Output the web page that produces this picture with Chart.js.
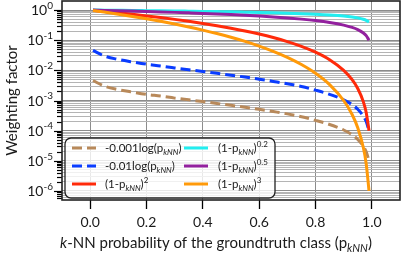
<!DOCTYPE html>
<html lang="en">
<head>
  <meta charset="UTF-8">
  <title>Weighting factor vs k-NN probability</title>
  <script src="https://cdn.jsdelivr.net/npm/chart.js"></script>
  <style>
    html, body { margin: 0; padding: 0; background: #fff; }
    .chart-container { width: 404px; height: 257px; }
  </style>
</head>
<body>
  <div class="chart-container">
    <canvas id="weightChart" width="404" height="257"></canvas>
  </div>

  <script>
    // p_kNN sample points
    const pValues = [0.01, 0.05, 0.1, 0.15, 0.2, 0.25, 0.3, 0.35, 0.4, 0.45, 0.5, 0.55,
                     0.6, 0.65, 0.7, 0.75, 0.8, 0.85, 0.9, 0.93, 0.95, 0.97, 0.98, 0.99];

    // weighting factors
    const logSmall = [0.0046, 0.0030, 0.0023, 0.0019, 0.0016, 0.0014, 0.0012, 0.00105, 0.00092, 0.0008, 0.00069, 0.0006,
                      0.00051, 0.00043, 0.00036, 0.00029, 0.00022, 0.00016, 0.000105, 0.000073, 0.000051, 0.00003, 0.00002, 0.00001];
    const logLarge = [0.046, 0.030, 0.023, 0.019, 0.016, 0.014, 0.012, 0.0105, 0.0092, 0.008, 0.0069, 0.006,
                      0.0051, 0.0043, 0.0036, 0.0029, 0.0022, 0.0016, 0.00105, 0.00073, 0.00051, 0.0003, 0.0002, 0.0001];
    const pow2 = [0.98, 0.9025, 0.81, 0.7225, 0.64, 0.5625, 0.49, 0.4225, 0.36, 0.3025, 0.25, 0.2025,
                  0.16, 0.1225, 0.09, 0.0625, 0.04, 0.0225, 0.01, 0.0049, 0.0025, 0.0009, 0.0004, 0.0001];
    const pow02 = [0.998, 0.990, 0.979, 0.968, 0.956, 0.944, 0.931, 0.917, 0.903, 0.887, 0.871, 0.852,
                   0.833, 0.811, 0.786, 0.758, 0.725, 0.684, 0.631, 0.587, 0.549, 0.496, 0.457, 0.398];
    const pow05 = [0.995, 0.975, 0.949, 0.922, 0.894, 0.866, 0.837, 0.806, 0.775, 0.742, 0.707, 0.671,
                   0.632, 0.592, 0.548, 0.5, 0.447, 0.387, 0.316, 0.265, 0.224, 0.173, 0.141, 0.1];
    const pow3 = [0.97, 0.857, 0.729, 0.614, 0.512, 0.422, 0.343, 0.275, 0.216, 0.166, 0.125, 0.0911,
                  0.064, 0.0429, 0.027, 0.0156, 0.008, 0.00338, 0.001, 0.000343, 0.000125, 0.000027, 0.000008, 0.000001];

    // legend labels: _{..} subscript, ^{..} superscript, *..* italic
    const seriesLabels = ['-0.001log(p_{kNN})', '-0.01log(p_{kNN})', '(1-p_{kNN})^{2}',
                          '(1-p_{kNN})^{0.2}', '(1-p_{kNN})^{0.5}', '(1-p_{kNN})^{3}'];
    const seriesColors = ['#b8895a', '#0a3cff', '#ff2a0a', '#22eef0', '#93209e', '#ff9a0a'];
    const seriesDash = [[10, 5], [10, 5], [], [], [], []];
    const seriesValues = [logSmall, logLarge, pow2, pow02, pow05, pow3];

    // axes
    const xTickValues = [0.0, 0.2, 0.4, 0.6, 0.8, 1.0];
    const yMajorExponents = [-6, -5, -4, -3, -2, -1, 0];
    const yMinorMultipliers = [2, 3, 4, 5, 6, 7, 8, 9];
    const xTitle = '*k*-NN probability of the groundtruth class (p_{kNN})';
    const yTitle = 'Weighting factor';

    const FONT = 'Lato, "Open Sans", sans-serif';
    const INK = '#1a1a1a';

    // all y grid values (minor + major), within the visible range
    const Y_MIN = Math.pow(10, -6.3), Y_MAX = Math.pow(10, 0.3);
    let yGrid = [];
    [-7].concat(yMajorExponents).forEach(e => {
      [1].concat(yMinorMultipliers).forEach(m => {
        const v = m * Math.pow(10, e);
        if (v >= Y_MIN && v <= Y_MAX) yGrid.push({ value: v, major: m === 1 });
      });
    });

    // split a label into styled pieces
    function parseRich(text) {
      const parts = [];
      const re = /(_\{[^}]*\}|\^\{[^}]*\}|\*[^*]*\*)/g;
      let last = 0, m;
      while ((m = re.exec(text)) !== null) {
        if (m.index > last) parts.push({ t: text.slice(last, m.index), kind: 'n' });
        const tok = m[0];
        if (tok[0] === '_') parts.push({ t: tok.slice(2, -1), kind: 'sub' });
        else if (tok[0] === '^') parts.push({ t: tok.slice(2, -1), kind: 'sup' });
        else parts.push({ t: tok.slice(1, -1), kind: 'it' });
        last = m.index + tok.length;
      }
      if (last < text.length) parts.push({ t: text.slice(last), kind: 'n' });
      return parts;
    }

    function richFont(kind, size) {
      if (kind === 'sub') return 'italic ' + Math.round(size * 0.72) + 'px ' + FONT;
      if (kind === 'sup') return Math.round(size * 0.72) + 'px ' + FONT;
      if (kind === 'it') return 'italic ' + size + 'px ' + FONT;
      return size + 'px ' + FONT;
    }

    function richWidth(ctx, parts, size) {
      let w = 0;
      parts.forEach(p => { ctx.font = richFont(p.kind, size); w += ctx.measureText(p.t).width; });
      return w;
    }

    // draw at baseline y, starting at x
    function drawRich(ctx, parts, x, y, size) {
      ctx.textAlign = 'left';
      ctx.textBaseline = 'alphabetic';
      parts.forEach(p => {
        ctx.font = richFont(p.kind, size);
        let dy = 0;
        if (p.kind === 'sub') dy = size * 0.28;
        if (p.kind === 'sup') dy = -size * 0.45;
        ctx.fillText(p.t, x, y + dy);
        x += ctx.measureText(p.t).width;
      });
    }

    const decorPlugin = {
      id: 'decor',
      afterDraw(chart) {
        const { ctx, chartArea: a, scales: { x, y } } = chart;
        ctx.save();
        ctx.fillStyle = INK;
        ctx.strokeStyle = '#000';

        // y tick marks
        ctx.lineWidth = 1.2;
        yGrid.forEach(g => {
          const py = Math.round(y.getPixelForValue(g.value)) + 0.5;
          ctx.beginPath();
          ctx.moveTo(a.left - (g.major ? 8 : 5), py);
          ctx.lineTo(a.left, py);
          ctx.stroke();
        });

        // y tick labels 10^n
        yMajorExponents.forEach(e => {
          const py = y.getPixelForValue(Math.pow(10, e));
          const parts = [{ t: '10', kind: 'n' }, { t: String(e), kind: 'sup' }];
          const w = richWidth(ctx, parts, 14);
          drawRich(ctx, parts, a.left - 9 - w, py + 5, 14);
        });

        // frame
        ctx.lineWidth = 1.6;
        ctx.strokeStyle = '#222';
        ctx.strokeRect(a.left, a.top, a.right - a.left, a.bottom - a.top);

        // y title
        ctx.save();
        ctx.translate(17, (a.top + a.bottom) / 2);
        ctx.rotate(-Math.PI / 2);
        ctx.font = '15px ' + FONT;
        ctx.textAlign = 'center';
        ctx.textBaseline = 'alphabetic';
        ctx.fillText(yTitle, 0, 0);
        ctx.restore();

        // x title
        const xt = parseRich(xTitle);
        const xw = richWidth(ctx, xt, 15);
        drawRich(ctx, xt, 216 - xw / 2, 248, 15);

        // legend
        const box = { left: a.left + 3, top: 138, right: 275, bottom: 198 };
        ctx.beginPath();
        ctx.roundRect(box.left, box.top, box.right - box.left, box.bottom - box.top, 6);
        ctx.fillStyle = 'rgba(255,255,255,0.8)';
        ctx.fill();
        ctx.lineWidth = 1.3;
        ctx.strokeStyle = '#222';
        ctx.stroke();

        const rows = [148, 166, 184];
        const cols = [{ line: 72, text: 105 }, { line: 184, text: 218 }];
        chart.data.datasets.forEach((ds, i) => {
          const col = cols[Math.floor(i / 3)];
          const ry = rows[i % 3];
          ctx.beginPath();
          ctx.setLineDash(ds.borderDash);
          ctx.lineWidth = ds.borderWidth;
          ctx.strokeStyle = ds.borderColor;
          ctx.moveTo(col.line, ry);
          ctx.lineTo(col.line + 24, ry);
          ctx.stroke();
          ctx.setLineDash([]);
          ctx.fillStyle = INK;
          drawRich(ctx, parseRich(ds.label), col.text, ry + 4, 11.5);
        });

        ctx.restore();
      }
    };

    const datasets = seriesValues.map((vals, i) => ({
      label: seriesLabels[i],
      data: vals.map((v, j) => ({ x: pValues[j], y: v })),
      borderColor: seriesColors[i],
      borderDash: seriesDash[i],
      borderWidth: 3,
      pointRadius: 0,
      fill: false,
      tension: 0.3,
      cubicInterpolationMode: 'monotone',
      order: seriesValues.length - i
    }));

    const ctx = document.getElementById('weightChart').getContext('2d');
    new Chart(ctx, {
      type: 'line',
      data: { datasets: datasets },
      options: {
        responsive: false,
        animation: false,
        layout: { padding: { top: 1, right: 4, left: 0, bottom: 0 } },
        plugins: {
          legend: { display: false },
          tooltip: { enabled: false }
        },
        scales: {
          x: {
            type: 'linear',
            min: -0.1,
            max: 1.1,
            afterBuildTicks: scale => { scale.ticks = xTickValues.map(v => ({ value: v })); },
            afterFit: scale => { scale.height = 57; },
            grid: { color: '#8c8c8c', lineWidth: 1, tickColor: '#000', tickLength: 9, tickWidth: 1.3 },
            border: { display: false },
            ticks: {
              color: INK,
              font: { size: 14, family: FONT },
              padding: 5,
              maxRotation: 0,
              callback: v => v.toFixed(1)
            }
          },
          y: {
            type: 'logarithmic',
            min: Y_MIN,
            max: Y_MAX,
            afterBuildTicks: scale => { scale.ticks = yGrid.map(g => ({ value: g.value, major: g.major })); },
            afterFit: scale => { scale.width = 62; },
            grid: {
              color: c => (c.tick && c.tick.major) ? '#8c8c8c' : '#b4b4b4',
              lineWidth: 1,
              drawTicks: false
            },
            border: { display: false },
            ticks: { display: false }
          }
        }
      },
      plugins: [decorPlugin]
    });
  </script>
</body>
</html>
